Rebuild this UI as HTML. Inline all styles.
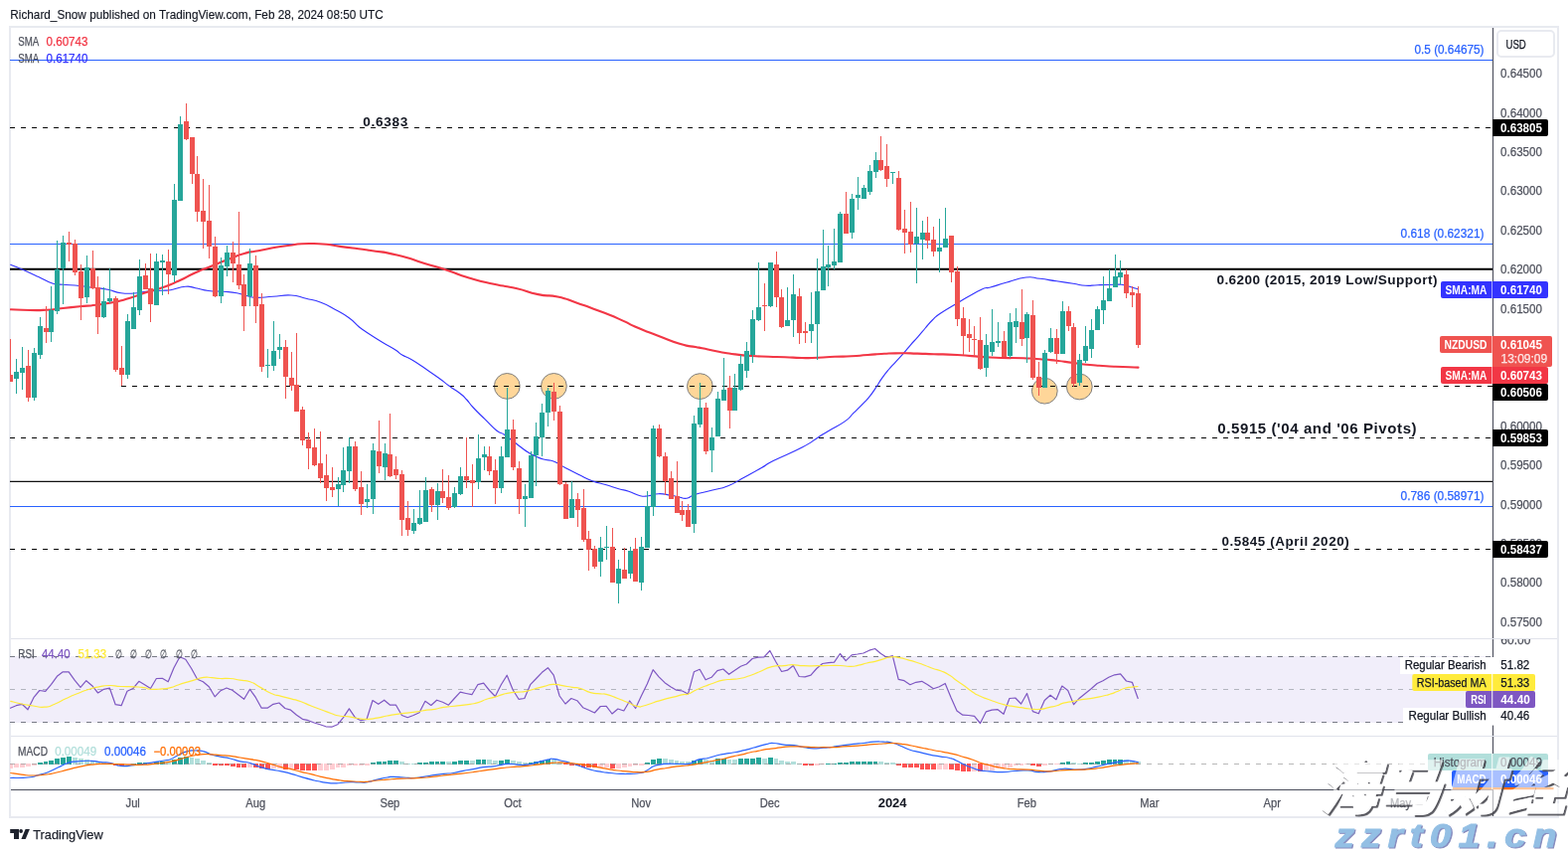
<!DOCTYPE html>
<html lang="en">
<head>
<meta charset="utf-8">
<title>NZDUSD chart</title>
<style>
html,body{margin:0;padding:0;background:#fff;}
body{width:1578px;height:857px;overflow:hidden;font-family:"Liberation Sans", Arial, sans-serif;}
svg{display:block;font-family:"Liberation Sans", Arial, sans-serif;}
</style>
</head>
<body>
<svg width="1578" height="857" viewBox="0 0 1578 857">
<rect x="0" y="0" width="1578" height="857" fill="#ffffff"/>
<text x="10.3" y="19" font-size="12.6" fill="#131722" textLength="375.5" lengthAdjust="spacingAndGlyphs" stroke="#131722" stroke-width="0.15">Richard_Snow published on TradingView.com, Feb 28, 2024 08:50 UTC</text>
<rect x="10" y="27" width="1558" height="795" fill="#ffffff" stroke="#e8eaf0" stroke-width="2"/>
<rect x="10" y="660" width="1492" height="67" fill="#f1eefa"/>
<line x1="10" y1="660.5" x2="1502" y2="660.5" stroke="#787b86" stroke-width="1" stroke-dasharray="5 6"/>
<line x1="10" y1="693.5" x2="1502" y2="693.5" stroke="#b2b5be" stroke-width="1" stroke-dasharray="5 6"/>
<line x1="10" y1="726.5" x2="1502" y2="726.5" stroke="#787b86" stroke-width="1" stroke-dasharray="5 6"/>
<circle cx="510.3" cy="388.4" r="12.9" fill="#ffd699" stroke="#7f7f7f" stroke-width="1"/>
<circle cx="557.4" cy="388.4" r="12.9" fill="#ffd699" stroke="#7f7f7f" stroke-width="1"/>
<circle cx="704.4" cy="388.6" r="12.9" fill="#ffd699" stroke="#7f7f7f" stroke-width="1"/>
<circle cx="1051.3" cy="393.2" r="12.9" fill="#ffd699" stroke="#7f7f7f" stroke-width="1"/>
<circle cx="1086.3" cy="389.0" r="12.9" fill="#ffd699" stroke="#7f7f7f" stroke-width="1"/>
<line x1="10" y1="60.5" x2="1502" y2="60.5" stroke="#2962ff" stroke-width="1"/>
<line x1="10" y1="245.5" x2="1502" y2="245.5" stroke="#2962ff" stroke-width="1"/>
<line x1="10" y1="509.5" x2="1502" y2="509.5" stroke="#2962ff" stroke-width="1"/>
<line x1="10" y1="270.7" x2="1502" y2="270.7" stroke="#000" stroke-width="2.1"/>
<line x1="10" y1="484.4" x2="1502" y2="484.4" stroke="#111" stroke-width="1.15"/>
<line x1="10" y1="128.5" x2="1502" y2="128.5" stroke="#000" stroke-width="1.05" stroke-dasharray="5 6"/>
<line x1="122" y1="388.4" x2="1502" y2="388.4" stroke="#000" stroke-width="1.05" stroke-dasharray="5 6"/>
<line x1="10" y1="440.4" x2="1502" y2="440.4" stroke="#000" stroke-width="1.05" stroke-dasharray="5 6"/>
<line x1="10" y1="552.5" x2="1502" y2="552.5" stroke="#000" stroke-width="1.05" stroke-dasharray="5 6"/>
<defs><clipPath id="cpMain"><rect x="10" y="28" width="1492" height="614"/></clipPath><clipPath id="cpRsi"><rect x="10" y="643" width="1492" height="97"/></clipPath><clipPath id="cpMacd"><rect x="10" y="741" width="1492" height="53"/></clipPath></defs>
<path d="M10.7,266.3C13.6,267.5 14.3,267.6 21.7,270.8C29.1,274.0 29.9,274.4 38.3,278.3C46.7,282.2 46.6,283.2 53.3,285.3C60.0,287.4 56.2,285.7 63.3,286.3C70.4,286.9 72.0,286.7 80.0,287.5C88.0,288.3 85.8,288.2 93.3,289.2C100.8,290.2 100.7,289.8 108.3,291.3C115.9,292.8 114.6,293.7 121.7,294.7C128.8,295.7 128.3,295.4 135.0,295.0C141.7,294.6 139.2,294.0 146.7,293.3C154.2,292.6 156.6,292.6 163.3,292.2C170.0,291.8 165.5,292.7 171.7,291.7C177.9,290.7 180.0,288.8 186.7,288.3C193.4,287.8 190.5,288.6 196.7,289.7C202.9,290.8 202.5,291.5 210.0,292.5C217.5,293.5 217.5,292.7 225.0,293.3C232.5,293.9 232.1,293.6 238.3,294.7C244.5,295.8 243.0,296.2 248.3,297.5C253.6,298.8 251.3,299.2 258.3,299.4C265.3,299.6 265.4,298.9 274.7,298.3C284.0,297.7 284.1,296.5 293.0,297.0C301.9,297.5 300.0,298.4 308.0,300.3C316.0,302.2 315.0,301.2 323.0,304.2C331.0,307.2 330.5,307.6 338.0,311.7C345.5,315.8 345.1,315.2 351.3,319.7C357.5,324.2 356.4,324.7 361.3,328.7C366.2,332.7 363.5,330.6 369.7,334.7C375.9,338.8 377.2,339.6 384.7,344.2C392.2,348.8 392.7,348.6 398.0,352.0C403.3,355.4 400.2,354.3 404.7,357.0C409.2,359.7 408.5,358.3 414.7,362.0C420.9,365.7 420.9,366.0 428.0,370.8C435.1,375.6 434.8,375.3 441.3,380.0C447.8,384.7 446.4,384.1 452.2,388.3C458.0,392.5 458.3,392.1 463.0,395.8C467.7,399.5 466.2,398.2 469.7,402.0C473.2,405.8 471.4,404.7 476.3,410.0C481.2,415.3 481.8,415.6 488.0,421.7C494.2,427.8 494.4,428.8 499.7,433.0C505.0,437.2 502.8,434.0 508.0,437.5C513.2,441.0 512.7,441.1 519.3,446.0C525.9,450.9 525.6,451.6 532.7,455.8C539.8,460.0 539.3,459.5 546.0,461.7C552.7,463.9 551.5,461.8 557.7,464.2C563.9,466.6 562.6,467.3 569.3,470.8C576.0,474.3 575.6,474.1 582.7,477.5C589.8,480.9 588.9,481.0 596.0,483.7C603.1,486.4 602.2,485.4 609.3,487.5C616.4,489.6 616.5,489.9 622.7,491.7C628.9,493.5 626.9,492.3 632.7,494.2C638.5,496.1 639.0,497.5 644.3,498.7C649.6,499.9 647.8,499.2 652.7,498.7C657.6,498.2 656.9,496.9 662.7,496.7C668.5,496.5 669.0,497.2 674.3,498.0C679.6,498.8 678.2,498.8 682.7,499.7C687.2,500.6 686.6,501.8 691.0,501.2C695.4,500.6 692.6,499.6 699.3,497.5C706.0,495.4 707.1,495.6 716.0,493.3C724.9,491.0 723.8,492.2 732.7,488.7C741.6,485.2 740.4,484.8 749.3,480.0C758.2,475.2 758.2,475.3 766.0,470.8C773.8,466.3 767.7,468.8 778.7,463.3C789.7,457.8 795.3,456.2 807.2,450.0C819.1,443.8 816.2,444.4 823.3,440.0C830.4,435.6 826.5,437.8 833.8,433.4C841.1,429.0 843.9,428.4 850.6,423.6C857.3,418.8 854.1,420.2 859.0,415.4C863.9,410.6 864.4,410.3 868.9,405.6C873.4,400.9 872.4,402.4 875.9,397.9C879.4,393.4 879.2,393.3 882.2,388.8C885.2,384.3 883.9,385.6 887.1,381.1C890.3,376.6 890.4,376.5 894.1,372.0C897.8,367.5 897.0,368.8 901.1,364.3C905.2,359.8 905.4,359.9 909.5,355.2C913.6,350.5 912.8,351.1 916.5,346.8C920.2,342.5 919.6,343.6 923.5,339.1C927.4,334.6 927.3,334.6 931.2,330.0C935.1,325.4 934.2,326.0 938.3,322.0C942.4,318.0 940.0,319.5 946.7,315.0C953.4,310.5 952.6,311.2 963.3,305.0C974.0,298.8 977.8,296.0 986.7,291.7C995.6,287.4 989.6,291.1 996.7,289.0C1003.8,286.9 1003.8,286.7 1013.3,284.0C1022.8,281.3 1023.6,280.0 1032.5,279.0C1041.4,278.0 1038.5,279.3 1046.7,280.3C1054.9,281.3 1054.4,281.5 1063.3,282.8C1072.2,284.1 1072.2,284.1 1080.0,285.3C1087.8,286.5 1085.8,286.9 1092.5,287.3C1099.2,287.7 1097.2,287.0 1105.0,286.7C1112.8,286.4 1115.0,286.3 1121.7,286.2C1128.4,286.1 1125.6,285.8 1130.0,286.5C1134.4,287.2 1134.2,287.6 1138.3,288.7C1142.4,289.8 1143.4,290.2 1145.2,290.8" fill="none" stroke="#3333ff" stroke-width="1.15" stroke-linejoin="round" stroke-linecap="round" clip-path="url(#cpMain)"/>
<path d="M10.7,311.3C17.1,311.5 18.0,311.9 30.0,312.0C42.0,312.1 35.6,312.4 46.7,311.7C57.8,311.0 52.2,311.1 63.3,310.0C74.4,308.9 68.9,309.4 80.0,308.3C91.1,307.2 85.6,308.1 96.7,306.7C107.8,305.3 102.2,306.4 113.3,304.2C124.4,302.0 118.9,303.3 130.0,300.0C141.1,296.7 135.6,297.8 146.7,294.2C157.8,290.6 152.2,293.1 163.3,289.2C174.4,285.3 168.9,287.5 180.0,282.5C191.1,277.5 185.6,279.2 196.7,274.2C207.8,269.2 202.2,272.0 213.3,267.5C224.4,263.0 218.9,265.1 230.0,260.8C241.1,256.5 236.7,257.5 246.7,254.7C256.7,251.9 246.3,254.8 260.0,252.3C273.7,249.8 269.3,249.7 287.9,247.3C306.5,244.9 297.2,244.7 315.8,245.0C334.4,245.3 325.1,245.8 343.7,248.1C362.3,250.4 352.9,249.0 371.5,251.8C390.1,254.6 380.8,252.1 399.4,256.5C418.0,260.9 410.6,259.8 427.3,264.9C444.0,270.0 434.7,267.0 449.6,271.8C464.5,276.6 456.1,274.7 471.9,279.4C487.7,284.1 481.2,282.3 497.0,285.8C512.8,289.3 504.4,286.6 519.3,290.0C534.2,293.4 527.6,293.2 541.6,296.1C555.6,299.0 548.2,295.7 561.2,298.6C574.2,301.5 567.7,300.3 580.7,304.7C593.7,309.1 586.3,306.4 600.2,311.7C614.1,317.0 608.6,314.6 622.5,320.6C636.4,326.6 629.0,324.2 642.0,329.8C655.0,335.4 647.6,332.1 661.6,337.4C675.6,342.7 671.1,341.8 683.9,345.7C696.7,349.6 692.4,347.5 700.0,349.0C707.6,350.5 698.9,348.7 706.7,350.3C714.5,351.9 712.2,351.7 723.3,353.7C734.4,355.7 728.9,355.0 740.0,356.4C751.1,357.8 745.6,357.2 756.7,358.0C767.8,358.8 762.2,358.3 773.3,358.7C784.4,359.1 778.9,358.8 790.0,359.2C801.1,359.6 795.6,359.8 806.7,360.0C817.8,360.2 812.2,360.2 823.3,359.8C834.4,359.4 828.9,359.3 840.0,358.8C851.1,358.3 845.6,358.9 856.7,358.3C867.8,357.7 862.2,357.8 873.3,357.0C884.4,356.2 878.9,356.4 890.0,355.8C901.1,355.2 895.6,355.4 906.7,355.3C917.8,355.2 912.2,355.3 923.3,355.6C934.4,355.9 926.7,355.7 940.0,356.2C953.3,356.7 944.4,355.9 963.3,357.0C982.2,358.1 974.5,358.4 996.7,359.5C1018.9,360.6 1013.3,359.7 1030.0,360.3C1046.7,360.9 1035.6,360.4 1046.7,361.2C1057.8,362.0 1052.2,361.5 1063.3,362.8C1074.4,364.1 1068.9,363.6 1080.0,365.0C1091.1,366.4 1085.6,365.9 1096.7,367.0C1107.8,368.1 1102.2,367.5 1113.3,368.2C1124.4,368.9 1119.3,368.5 1130.0,369.0C1140.7,369.5 1140.3,369.4 1145.5,369.6" fill="none" stroke="#f23645" stroke-width="2.1" stroke-linejoin="round" stroke-linecap="round" clip-path="url(#cpMain)"/>
<g clip-path="url(#cpMain)" shape-rendering="crispEdges"><path d="M16,361h1V396h-1zM22,349h1V392h-1zM34,350h1V403h-1zM40,319h1V361h-1zM51,288h1V344h-1zM57,242h1V316h-1zM63,237h1V306h-1zM87,257h1V305h-1zM104,289h1V320h-1zM110,270h1V305h-1zM128,316h1V381h-1zM134,294h1V331h-1zM140,261h1V317h-1zM157,255h1V307h-1zM163,256h1V297h-1zM175,185h1V284h-1zM181,117h1V202h-1zM222,259h1V305h-1zM228,247h1V278h-1zM251,250h1V308h-1zM269,351h1V380h-1zM275,323h1V373h-1zM281,336h1V361h-1zM340,480h1V509h-1zM345,450h1V495h-1zM351,440h1V486h-1zM369,487h1V511h-1zM375,446h1V517h-1zM387,446h1V483h-1zM416,512h1V537h-1zM422,493h1V528h-1zM428,480h1V525h-1zM440,486h1V523h-1zM457,490h1V511h-1zM463,470h1V498h-1zM481,437h1V492h-1zM487,449h1V473h-1zM504,449h1V496h-1zM510,390h1V460h-1zM528,487h1V530h-1zM534,454h1V501h-1zM539,425h1V489h-1zM545,406h1V459h-1zM551,390h1V429h-1zM575,484h1V521h-1zM604,540h1V580h-1zM610,529h1V563h-1zM622,563h1V607h-1zM634,550h1V582h-1zM645,540h1V594h-1zM651,494h1V551h-1zM657,428h1V519h-1zM698,418h1V536h-1zM704,385h1V430h-1zM716,430h1V475h-1zM722,394h1V439h-1zM728,360h1V403h-1zM739,376h1V413h-1zM745,357h1V393h-1zM751,344h1V380h-1zM757,312h1V365h-1zM763,264h1V323h-1zM775,264h1V309h-1zM792,289h1V328h-1zM798,276h1V339h-1zM816,294h1V345h-1zM822,260h1V362h-1zM828,231h1V292h-1zM833,247h1V288h-1zM839,230h1V271h-1zM845,213h1V264h-1zM857,195h1V240h-1zM863,178h1V211h-1zM869,186h1V200h-1zM875,166h1V196h-1zM881,153h1V179h-1zM898,173h1V185h-1zM922,209h1V285h-1zM928,222h1V261h-1zM945,220h1V274h-1zM951,209h1V249h-1zM992,336h1V379h-1zM998,311h1V358h-1zM1004,324h1V349h-1zM1016,315h1V360h-1zM1022,310h1V345h-1zM1033,314h1V365h-1zM1051,352h1V390h-1zM1057,330h1V355h-1zM1069,303h1V356h-1zM1086,356h1V388h-1zM1092,328h1V365h-1zM1098,321h1V360h-1zM1104,308h1V332h-1zM1110,278h1V326h-1zM1116,271h1V303h-1zM1122,256h1V289h-1zM1127,262h1V286h-1zM14,374h5V381h-5zM20,370h5V375h-5zM32,355h5V400h-5zM38,328h5V357h-5zM49,312h5V334h-5zM55,271h5V313h-5zM61,244h5V270h-5zM85,269h5V299h-5zM102,303h5V319h-5zM108,300h5V303h-5zM126,323h5V377h-5zM132,309h5V331h-5zM138,278h5V312h-5zM155,263h5V307h-5zM161,262h5V264h-5zM173,201h5V277h-5zM179,125h5V202h-5zM220,267h5V298h-5zM226,254h5V268h-5zM249,265h5V298h-5zM267,367h5V368h-5zM273,353h5V368h-5zM279,349h5V352h-5zM338,487h5V492h-5zM343,473h5V488h-5zM349,449h5V474h-5zM367,502h5V505h-5zM373,453h5V502h-5zM385,456h5V470h-5zM414,526h5V534h-5zM420,521h5V527h-5zM426,493h5V525h-5zM438,494h5V508h-5zM455,496h5V510h-5zM461,479h5V497h-5zM479,461h5V485h-5zM485,457h5V460h-5zM502,459h5V491h-5zM508,432h5V460h-5zM526,499h5V502h-5zM532,458h5V501h-5zM537,439h5V458h-5zM543,415h5V440h-5zM549,393h5V415h-5zM573,502h5V521h-5zM602,551h5V565h-5zM608,550h5V551h-5zM620,572h5V587h-5zM632,554h5V577h-5zM643,550h5V586h-5zM649,509h5V551h-5zM655,431h5V510h-5zM696,426h5V527h-5zM702,410h5V427h-5zM714,440h5V453h-5zM720,401h5V439h-5zM726,392h5V403h-5zM737,390h5V413h-5zM743,366h5V392h-5zM749,353h5V373h-5zM755,321h5V357h-5zM761,309h5V322h-5zM773,264h5V308h-5zM790,322h5V328h-5zM796,296h5V322h-5zM814,326h5V333h-5zM820,293h5V326h-5zM826,268h5V292h-5zM831,266h5V269h-5zM837,263h5V267h-5zM843,215h5V264h-5zM855,200h5V234h-5zM861,196h5V199h-5zM867,189h5V200h-5zM873,172h5V193h-5zM879,161h5V173h-5zM896,173h5V174h-5zM920,238h5V245h-5zM926,234h5V241h-5zM943,249h5V253h-5zM949,240h5V249h-5zM990,347h5V370h-5zM996,344h5V354h-5zM1002,343h5V345h-5zM1014,324h5V358h-5zM1020,323h5V329h-5zM1031,316h5V340h-5zM1049,355h5V390h-5zM1055,340h5V354h-5zM1067,313h5V356h-5zM1084,362h5V385h-5zM1090,348h5V363h-5zM1096,332h5V351h-5zM1102,311h5V332h-5zM1108,302h5V312h-5zM1114,290h5V303h-5zM1120,278h5V289h-5zM1125,274h5V279h-5z" fill="#26a69a"/><path d="M10,341h1V384h-1zM28,352h1V404h-1zM46,308h1V345h-1zM69,233h1V263h-1zM75,241h1V277h-1zM81,266h1V322h-1zM93,252h1V291h-1zM98,278h1V336h-1zM116,298h1V374h-1zM122,348h1V388h-1zM146,265h1V291h-1zM151,255h1V324h-1zM169,251h1V296h-1zM187,104h1V141h-1zM193,138h1V185h-1zM198,157h1V223h-1zM204,180h1V250h-1zM210,186h1V260h-1zM216,238h1V299h-1zM234,243h1V284h-1zM240,213h1V291h-1zM245,276h1V333h-1zM257,257h1V325h-1zM263,295h1V374h-1zM287,342h1V401h-1zM293,354h1V393h-1zM298,335h1V414h-1zM304,409h1V448h-1zM310,435h1V472h-1zM316,431h1V469h-1zM322,434h1V486h-1zM328,457h1V504h-1zM334,470h1V500h-1zM357,444h1V494h-1zM363,474h1V518h-1zM381,423h1V476h-1zM392,416h1V480h-1zM398,459h1V482h-1zM404,473h1V539h-1zM410,504h1V539h-1zM434,490h1V515h-1zM445,472h1V506h-1zM451,478h1V513h-1zM469,440h1V491h-1zM475,467h1V510h-1zM492,449h1V478h-1zM498,462h1V507h-1zM516,422h1V473h-1zM522,464h1V517h-1zM557,385h1V423h-1zM563,408h1V488h-1zM569,485h1V522h-1zM581,496h1V530h-1zM587,492h1V545h-1zM592,534h1V574h-1zM598,549h1V572h-1zM616,531h1V586h-1zM628,551h1V582h-1zM639,541h1V585h-1zM663,427h1V460h-1zM669,455h1V498h-1zM675,474h1V502h-1zM681,464h1V516h-1zM686,504h1V524h-1zM692,507h1V530h-1zM710,405h1V457h-1zM734,378h1V431h-1zM769,285h1V333h-1zM781,253h1V309h-1zM786,291h1V330h-1zM804,290h1V346h-1zM810,324h1V345h-1zM851,193h1V235h-1zM886,137h1V172h-1zM892,145h1V188h-1zM904,172h1V232h-1zM910,211h1V255h-1zM916,203h1V254h-1zM933,218h1V250h-1zM939,228h1V258h-1zM957,237h1V284h-1zM963,268h1V328h-1zM969,309h1V357h-1zM975,321h1V354h-1zM980,328h1V358h-1zM986,319h1V372h-1zM1010,333h1V359h-1zM1028,291h1V348h-1zM1039,302h1V382h-1zM1045,364h1V398h-1zM1063,331h1V366h-1zM1075,308h1V333h-1zM1080,325h1V389h-1zM1133,271h1V300h-1zM1139,288h1V309h-1zM1145,288h1V350h-1zM8,377h5V384h-5zM26,368h5V400h-5zM44,330h5V334h-5zM67,244h5V246h-5zM73,245h5V274h-5zM79,273h5V300h-5zM91,270h5V290h-5zM96,289h5V319h-5zM114,300h5V372h-5zM120,370h5V377h-5zM144,277h5V291h-5zM149,290h5V306h-5zM167,263h5V276h-5zM185,122h5V140h-5zM191,138h5V175h-5zM196,175h5V213h-5zM202,212h5V223h-5zM208,222h5V248h-5zM214,248h5V298h-5zM232,254h5V265h-5zM238,266h5V287h-5zM243,286h5V308h-5zM255,267h5V308h-5zM261,306h5V369h-5zM285,349h5V379h-5zM291,380h5V388h-5zM296,387h5V414h-5zM302,412h5V443h-5zM308,442h5V451h-5zM314,450h5V468h-5zM320,466h5V481h-5zM326,478h5V491h-5zM332,490h5V493h-5zM355,449h5V492h-5zM361,490h5V507h-5zM379,454h5V469h-5zM390,457h5V479h-5zM396,472h5V478h-5zM402,477h5V523h-5zM408,521h5V533h-5zM432,492h5V508h-5zM443,494h5V501h-5zM449,500h5V511h-5zM467,479h5V483h-5zM473,483h5V486h-5zM490,459h5V474h-5zM496,473h5V491h-5zM514,432h5V470h-5zM520,471h5V502h-5zM555,394h5V414h-5zM561,414h5V487h-5zM567,487h5V522h-5zM579,502h5V513h-5zM585,511h5V543h-5zM590,542h5V553h-5zM596,552h5V570h-5zM614,550h5V586h-5zM626,573h5V582h-5zM637,552h5V585h-5zM661,431h5V459h-5zM667,459h5V484h-5zM673,481h5V502h-5zM679,499h5V516h-5zM684,513h5V518h-5zM690,513h5V530h-5zM708,410h5V454h-5zM732,390h5V413h-5zM767,307h5V308h-5zM779,266h5V299h-5zM784,299h5V329h-5zM802,298h5V335h-5zM808,333h5V335h-5zM849,215h5V235h-5zM884,161h5V171h-5zM890,167h5V180h-5zM902,179h5V231h-5zM908,230h5V234h-5zM914,233h5V246h-5zM931,234h5V242h-5zM937,241h5V253h-5zM955,237h5V274h-5zM961,273h5V321h-5zM967,320h5V338h-5zM973,336h5V340h-5zM978,341h5V342h-5zM984,342h5V371h-5zM1008,343h5V359h-5zM1026,324h5V341h-5zM1037,317h5V380h-5zM1043,379h5V390h-5zM1061,340h5V356h-5zM1073,313h5V328h-5zM1078,329h5V386h-5zM1131,276h5V295h-5zM1137,294h5V297h-5zM1143,295h5V347h-5z" fill="#ef5350"/></g>
<path d="M10.4,712.2 L16.3,709.7 L22.2,708.3 L28.0,713.8 L33.9,701.7 L39.8,694.5 L45.7,695.3 L51.6,688.3 L57.4,680.3 L63.3,675.8 L69.2,675.8 L75.1,684.2 L81.0,691.3 L86.8,684.7 L92.7,689.7 L98.6,697.0 L104.5,693.3 L110.4,692.2 L116.2,708.7 L122.1,709.7 L128.0,695.3 L133.9,692.5 L139.8,685.3 L145.6,688.7 L151.5,692.5 L157.4,682.5 L163.3,682.3 L169.2,685.8 L175.0,671.7 L180.9,660.8 L186.8,663.3 L192.7,672.5 L198.6,683.3 L204.4,685.8 L210.3,690.8 L216.2,700.8 L222.1,694.7 L228.0,692.0 L233.8,694.2 L239.7,698.7 L245.6,703.3 L251.5,693.3 L257.4,701.7 L263.2,712.2 L269.1,712.2 L275.0,708.3 L280.9,707.0 L286.8,712.5 L292.6,714.2 L298.5,719.2 L304.4,723.3 L310.3,724.7 L316.2,727.0 L322.0,728.8 L327.9,730.8 L333.8,731.2 L339.7,728.8 L345.6,721.7 L351.4,712.8 L357.3,721.7 L363.2,724.7 L369.1,723.3 L375.0,704.5 L380.8,708.3 L386.7,704.2 L392.6,709.2 L398.5,709.2 L404.4,719.5 L410.2,721.7 L416.1,719.5 L422.0,716.7 L427.9,705.3 L433.8,709.5 L439.6,704.2 L445.5,706.3 L451.4,709.2 L457.3,702.5 L463.2,696.2 L469.0,697.5 L474.9,698.7 L480.8,688.7 L486.7,687.2 L492.6,694.5 L498.4,700.5 L504.3,688.7 L510.2,679.2 L516.1,693.8 L522.0,703.3 L527.8,702.5 L533.7,688.7 L539.6,682.5 L545.5,676.3 L551.4,671.7 L557.2,679.2 L563.1,700.0 L569.0,708.0 L574.9,702.5 L580.8,704.7 L586.6,711.7 L592.5,714.2 L598.4,717.0 L604.3,710.5 L610.2,710.3 L616.0,718.0 L621.9,713.0 L627.8,715.0 L633.7,705.0 L639.6,712.5 L645.4,700.0 L651.3,688.0 L657.2,673.7 L663.1,680.8 L669.0,686.7 L674.8,690.8 L680.7,694.2 L686.6,695.0 L692.5,698.0 L698.4,675.8 L704.2,673.3 L710.1,683.8 L716.0,681.3 L721.9,674.7 L727.8,673.0 L733.6,678.3 L739.5,674.2 L745.4,670.3 L751.3,668.0 L757.2,662.5 L763.0,661.2 L768.9,660.8 L774.8,654.5 L780.7,665.5 L786.6,675.5 L792.4,674.2 L798.3,669.5 L804.2,680.5 L810.1,680.8 L816.0,679.2 L821.8,672.5 L827.7,667.5 L833.6,666.7 L839.5,666.2 L845.4,657.5 L851.2,664.7 L857.1,658.8 L863.0,658.0 L868.9,657.0 L874.8,654.2 L880.6,652.5 L886.5,657.5 L892.4,661.3 L898.3,659.7 L904.2,683.3 L910.0,684.7 L915.9,688.7 L921.8,686.3 L927.7,685.3 L933.6,688.7 L939.4,692.8 L945.3,690.8 L951.2,687.5 L957.1,701.7 L963.0,715.0 L968.8,719.2 L974.7,719.5 L980.6,720.3 L986.5,727.5 L992.4,715.8 L998.2,714.2 L1004.1,713.7 L1010.0,718.3 L1015.9,702.5 L1021.8,702.0 L1027.6,708.0 L1033.5,697.5 L1039.4,715.6 L1045.3,717.8 L1051.2,704.5 L1057.0,699.2 L1062.9,703.7 L1068.8,690.0 L1074.7,694.5 L1080.6,708.7 L1086.4,702.2 L1092.3,697.5 L1098.2,692.8 L1104.1,687.5 L1110.0,684.7 L1115.8,681.3 L1121.7,678.8 L1127.6,677.8 L1133.5,685.0 L1139.4,686.3 L1145.2,702.5" fill="none" stroke="#7e57c2" stroke-width="1.2" stroke-linejoin="round" stroke-linecap="round" clip-path="url(#cpRsi)" />
<path d="M10.7,705.3C14.3,706.2 14.1,706.4 21.7,708.0C29.2,709.6 25.6,708.9 33.3,710.0C41.1,711.1 37.8,711.7 45.0,711.2C52.2,710.6 47.8,711.2 55.0,708.3C62.2,705.4 58.9,706.1 66.7,702.5C74.4,698.9 71.1,700.4 78.3,697.5C85.6,694.6 81.7,695.8 88.3,693.7C95.0,691.6 91.1,692.6 98.3,691.2C105.6,689.8 102.2,689.7 110.0,689.5C117.8,689.3 113.3,690.1 121.7,690.5C130.0,690.9 127.2,690.4 135.0,690.8C142.8,691.2 139.4,690.8 145.0,691.7C150.6,692.5 145.6,692.9 151.7,693.3C157.8,693.7 156.7,693.4 163.3,692.8C170.0,692.3 166.1,693.1 171.7,691.7C177.2,690.3 174.4,690.5 180.0,688.7C185.6,686.8 182.8,687.8 188.3,686.2C193.9,684.5 191.1,685.3 196.7,683.7C202.2,682.1 199.4,682.0 205.0,681.3C210.6,680.7 207.8,681.3 213.3,681.7C218.9,682.1 215.6,682.2 221.7,682.5C227.8,682.8 225.0,681.9 231.7,682.5C238.3,683.1 235.0,683.1 241.7,684.2C248.3,685.3 245.1,683.5 251.7,685.8C258.3,688.1 254.4,687.2 261.5,691.1C268.6,695.0 265.8,694.4 273.0,697.5C280.2,700.6 276.3,698.6 283.0,700.3C289.7,702.1 286.3,701.0 293.0,702.8C299.7,704.7 296.3,703.4 303.0,705.8C309.7,708.2 306.3,707.4 313.0,710.0C319.7,712.6 316.3,711.2 323.0,713.7C329.7,716.2 326.9,715.4 333.0,717.5C339.1,719.6 335.2,718.9 341.3,720.0C347.4,721.1 345.2,720.0 351.3,720.8C357.4,721.7 353.6,721.7 359.7,722.5C365.8,723.3 363.0,723.4 369.7,723.3C376.3,723.2 373.0,723.3 379.7,722.2C386.3,721.1 383.0,721.3 389.7,720.0C396.3,718.7 393.0,719.3 399.7,718.3C406.3,717.4 403.0,718.0 409.7,717.2C416.3,716.3 413.0,716.8 419.7,715.8C426.3,714.8 423.6,715.0 429.7,714.2C435.8,713.3 432.4,714.3 438.0,713.3C443.6,712.4 440.8,712.3 446.3,711.3C451.9,710.4 449.1,711.1 454.7,710.5C460.2,709.9 456.9,710.4 463.0,709.7C469.1,708.9 466.9,709.3 473.0,708.3C479.1,707.3 475.8,708.3 481.3,706.7C486.9,705.0 484.1,705.2 489.7,703.3C495.2,701.5 492.4,702.8 498.0,701.2C503.6,699.5 500.8,699.8 506.3,698.3C511.9,696.8 509.8,697.4 514.7,696.7C519.6,695.9 516.1,696.6 521.0,696.2C525.9,695.7 523.8,696.4 529.3,695.3C534.9,694.3 531.6,694.7 537.7,693.0C543.8,691.3 541.3,691.9 547.7,690.3C554.1,688.8 550.7,688.6 556.8,688.3C562.9,688.1 559.6,688.7 566.0,689.7C572.4,690.7 569.9,690.4 576.0,691.3C582.1,692.3 578.2,690.7 584.3,692.5C590.4,694.3 587.7,694.9 594.3,696.7C601.0,698.4 598.8,697.2 604.3,697.8C609.9,698.5 605.4,697.2 611.0,698.7C616.6,700.1 614.3,699.6 621.0,702.2C627.7,704.7 624.3,703.6 631.0,706.3C637.7,709.1 635.4,709.1 641.0,710.3C646.6,711.6 642.1,711.2 647.7,710.0C653.2,708.8 651.0,708.8 657.7,706.7C664.3,704.6 661.0,705.5 667.7,703.7C674.3,701.8 671.0,702.8 677.7,701.2C684.3,699.5 682.7,699.7 687.7,698.7C692.7,697.6 688.2,699.7 692.7,698.0C697.1,696.3 695.4,696.2 701.0,693.7C706.6,691.1 703.8,692.5 709.3,690.3C714.9,688.2 711.6,689.2 717.7,687.2C723.8,685.1 721.6,685.4 727.7,684.2C733.8,682.9 730.4,683.9 736.0,683.3C741.6,682.8 738.2,683.7 744.3,682.5C750.4,681.3 747.7,681.9 754.3,679.7C761.0,677.4 756.9,678.8 764.3,675.8C771.8,672.8 768.4,672.7 776.7,670.7C784.9,668.6 782.1,670.3 789.0,669.7C795.9,669.0 790.7,668.7 797.3,668.7C804.0,668.7 800.7,669.3 809.0,669.7C817.3,670.0 814.0,669.7 822.3,669.7C830.7,669.6 826.2,669.6 834.0,669.5C841.8,669.4 838.4,669.2 845.7,669.5C852.9,669.8 849.6,670.4 855.7,670.3C861.8,670.2 858.4,670.3 864.0,669.2C869.6,668.1 866.8,668.3 872.3,667.0C877.9,665.7 875.1,666.7 880.7,665.3C886.2,663.9 883.4,664.3 889.0,662.8C894.6,661.3 891.8,661.2 897.3,660.8C902.9,660.4 900.1,660.7 905.7,661.7C911.2,662.7 908.4,662.3 914.0,663.8C919.6,665.3 916.8,664.4 922.3,666.2C927.9,667.9 925.1,667.1 930.7,669.2C936.2,671.3 933.4,670.6 939.0,672.5C944.6,674.4 941.8,672.8 947.3,675.0C952.9,677.2 950.7,676.1 955.7,679.2C960.7,682.2 957.3,680.6 962.3,684.2C967.3,687.8 965.1,686.0 970.7,690.0C976.2,694.0 974.0,692.8 979.0,696.2C984.0,699.5 980.7,697.6 985.7,700.0C990.7,702.4 988.4,701.3 994.0,703.3C999.6,705.4 996.8,704.3 1002.3,706.2C1007.9,708.0 1005.1,707.4 1010.7,708.8C1016.2,710.2 1013.4,709.4 1019.0,710.3C1024.6,711.3 1021.6,710.8 1027.3,711.7C1033.1,712.6 1029.8,712.4 1036.3,713.0C1042.9,713.6 1040.7,713.8 1047.0,713.3C1053.3,712.9 1049.8,712.9 1055.3,711.7C1060.9,710.4 1058.7,711.2 1063.7,709.7C1068.7,708.2 1064.8,708.6 1070.3,707.2C1075.9,705.7 1073.7,706.6 1080.3,705.3C1087.0,704.1 1083.7,704.4 1090.3,703.3C1097.0,702.3 1093.7,703.3 1100.3,702.2C1107.0,701.1 1104.8,701.3 1110.3,700.0C1115.9,698.7 1112.6,699.7 1117.0,698.3C1121.4,696.9 1118.7,697.9 1123.7,695.8C1128.7,693.8 1127.0,693.7 1132.0,692.2C1137.0,690.6 1134.3,691.7 1138.7,691.2C1143.0,690.6 1142.9,690.7 1145.0,690.5" fill="none" stroke="#ffeb3b" stroke-width="1.2" stroke-linejoin="round" stroke-linecap="round" clip-path="url(#cpRsi)"/>
<g clip-path="url(#cpMacd)" shape-rendering="crispEdges"><path d="M38,767h5V769h-5zM44,766h4V769h-4zM49,765h5V769h-5zM55,763h5V769h-5zM61,762h5V769h-5zM67,761h5V769h-5zM132,768h5V769h-5zM138,767h5V769h-5zM144,767h4V769h-4zM155,766h5V769h-5zM161,766h5V769h-5zM173,764h5V769h-5zM179,762h5V769h-5zM185,761h5V769h-5zM373,767h5V769h-5zM379,766h5V769h-5zM385,766h4V769h-4zM390,765h5V769h-5zM396,765h5V769h-5zM420,767h5V769h-5zM426,767h5V769h-5zM432,766h5V769h-5zM438,766h4V769h-4zM443,766h5V769h-5zM455,766h5V769h-5zM461,765h5V769h-5zM467,765h5V769h-5zM479,764h5V769h-5zM485,764h4V769h-4zM502,765h5V769h-5zM508,764h5V769h-5zM532,767h4V769h-4zM537,766h5V769h-5zM543,765h5V769h-5zM549,764h5V769h-5zM649,767h5V769h-5zM655,764h5V769h-5zM661,763h5V769h-5zM696,765h5V769h-5zM702,764h5V769h-5zM720,763h5V769h-5zM726,763h5V769h-5zM743,763h5V769h-5zM749,763h5V769h-5zM755,763h5V769h-5zM761,762h5V769h-5zM773,762h5V769h-5zM831,768h5V769h-5zM837,768h5V769h-5zM843,767h5V769h-5zM849,767h5V769h-5zM855,766h5V769h-5zM861,766h5V769h-5zM867,766h5V769h-5zM873,766h5V769h-5zM879,766h4V769h-4zM1067,767h5V769h-5zM1073,766h4V769h-4zM1090,767h5V769h-5zM1096,767h5V769h-5zM1102,766h5V769h-5zM1108,765h5V769h-5zM1114,764h5V769h-5zM1120,764h4V769h-4zM1125,764h5V769h-5z" fill="#26a69a"/><path d="M73,762h5V769h-5zM79,763h5V769h-5zM85,764h5V769h-5zM91,765h4V769h-4zM96,766h5V769h-5zM102,767h5V769h-5zM108,768h5V769h-5zM149,768h5V769h-5zM167,767h5V769h-5zM191,762h4V769h-4zM196,763h5V769h-5zM202,765h5V769h-5zM208,767h5V769h-5zM402,766h5V769h-5zM408,768h5V769h-5zM414,768h5V769h-5zM449,766h5V769h-5zM473,765h5V769h-5zM490,764h5V769h-5zM496,765h5V769h-5zM514,765h5V769h-5zM520,766h5V769h-5zM526,767h5V769h-5zM555,764h5V769h-5zM561,766h5V769h-5zM667,763h5V769h-5zM673,764h5V769h-5zM679,765h4V769h-4zM684,766h5V769h-5zM690,766h5V769h-5zM708,764h5V769h-5zM714,765h5V769h-5zM732,764h4V769h-4zM737,764h5V769h-5zM767,763h5V769h-5zM779,763h4V769h-4zM784,765h5V769h-5zM790,766h5V769h-5zM796,766h5V769h-5zM802,768h5V769h-5zM884,766h5V769h-5zM890,767h5V769h-5zM896,767h5V769h-5zM1078,767h5V769h-5zM1084,768h5V769h-5zM1131,764h5V769h-5zM1137,765h5V769h-5zM1143,766h5V769h-5z" fill="#b2dfdb"/><path d="M114,768h5V770h-5zM120,768h5V770h-5zM214,768h5V770h-5zM220,768h5V770h-5zM226,768h5V770h-5zM232,768h5V771h-5zM238,768h4V772h-4zM243,768h5V772h-5zM255,768h5V772h-5zM261,768h5V773h-5zM267,768h5V774h-5zM285,768h5V774h-5zM296,768h5V774h-5zM302,768h5V775h-5zM308,768h5V775h-5zM314,768h5V775h-5zM567,768h5V769h-5zM573,768h5V770h-5zM579,768h5V770h-5zM585,768h4V772h-4zM590,768h5V772h-5zM596,768h5V772h-5zM614,768h5V773h-5zM808,768h5V770h-5zM814,768h5V770h-5zM902,768h5V770h-5zM908,768h5V772h-5zM914,768h5V772h-5zM920,768h5V772h-5zM926,768h4V774h-4zM931,768h5V774h-5zM937,768h5V774h-5zM955,768h5V774h-5zM961,768h5V775h-5zM967,768h5V776h-5zM973,768h4V776h-4zM984,768h5V776h-5zM1037,768h5V770h-5zM1043,768h5V771h-5z" fill="#ff5252"/><path d="M8,768h5V773h-5zM14,768h5V772h-5zM20,768h5V772h-5zM26,768h5V771h-5zM32,768h5V770h-5zM126,768h5V769h-5zM249,768h5V772h-5zM273,768h5V773h-5zM279,768h5V773h-5zM291,768h4V773h-4zM320,768h5V775h-5zM326,768h5V775h-5zM332,768h5V774h-5zM338,768h4V772h-4zM343,768h5V772h-5zM349,768h5V770h-5zM355,768h5V770h-5zM361,768h5V770h-5zM367,768h5V770h-5zM602,768h5V772h-5zM608,768h5V772h-5zM620,768h5V773h-5zM626,768h5V772h-5zM632,768h4V771h-4zM637,768h5V770h-5zM643,768h5V770h-5zM820,768h5V770h-5zM826,768h4V769h-4zM943,768h5V774h-5zM949,768h5V774h-5zM978,768h5V776h-5zM990,768h5V775h-5zM996,768h5V775h-5zM1002,768h5V773h-5zM1008,768h5V772h-5zM1014,768h5V772h-5zM1020,768h5V770h-5zM1026,768h4V770h-4zM1031,768h5V769h-5zM1049,768h5V770h-5zM1055,768h5V769h-5zM1061,768h5V769h-5z" fill="#ffcdd2"/></g>
<line x1="10" y1="768.5" x2="1502" y2="768.5" stroke="#9a9a9a" stroke-opacity="0.7" stroke-width="1" stroke-dasharray="5 6" clip-path="url(#cpMacd)"/>
<path d="M10.7,782.5C16.6,782.3 19.1,782.9 28.3,782.0C37.6,781.1 31.7,781.4 38.3,779.7C45.0,777.9 41.7,779.2 48.3,776.7C55.0,774.1 51.7,775.1 58.3,772.0C65.0,768.9 61.7,769.6 68.3,767.5C75.0,765.4 70.6,766.6 78.3,765.8C86.1,765.1 83.9,765.1 91.7,765.3C99.4,765.6 95.0,765.9 101.7,766.7C108.3,767.4 105.0,766.3 111.7,767.5C118.3,768.7 113.9,769.6 121.7,770.3C129.4,771.1 127.2,770.3 135.0,769.7C142.8,769.0 138.3,769.3 145.0,768.3C151.7,767.3 148.3,767.8 155.0,766.7C161.7,765.6 159.4,766.0 165.0,765.0C170.6,764.0 166.7,765.6 171.7,763.7C176.7,761.7 174.4,761.8 180.0,759.2C185.6,756.6 182.8,757.2 188.3,755.8C193.9,754.4 191.1,755.0 196.7,755.0C202.2,755.0 199.4,754.4 205.0,755.8C210.6,757.2 207.8,757.4 213.3,759.2C218.9,760.9 215.6,759.9 221.7,761.2C227.8,762.4 225.0,761.4 231.7,763.0C238.3,764.6 235.0,764.3 241.7,765.8C248.3,767.3 245.1,765.6 251.7,767.5C258.3,769.4 254.4,769.2 261.5,771.4C268.6,773.6 265.8,772.7 273.0,774.2C280.2,775.6 276.3,774.4 283.0,775.8C289.7,777.2 286.3,776.5 293.0,778.3C299.7,780.2 296.3,779.4 303.0,781.3C309.7,783.3 306.3,782.5 313.0,784.2C319.7,785.8 316.3,785.1 323.0,786.3C329.7,787.6 326.3,787.4 333.0,787.8C339.7,788.2 336.3,787.9 343.0,787.5C349.7,787.1 346.3,786.8 353.0,786.7C359.7,786.5 357.4,787.0 363.0,787.0C368.6,787.0 364.1,787.6 369.7,786.7C375.2,785.7 373.0,785.7 379.7,784.2C386.3,782.6 384.1,782.9 389.7,782.0C395.2,781.1 390.8,781.3 396.3,781.3C401.9,781.3 399.7,781.6 406.3,782.0C413.0,782.4 409.7,782.7 416.3,782.5C423.0,782.3 419.7,782.3 426.3,781.3C433.0,780.4 429.7,780.7 436.3,779.7C443.0,778.7 439.7,779.1 446.3,778.3C453.0,777.6 449.7,778.5 456.3,777.5C463.0,776.5 459.7,776.6 466.3,775.3C473.0,774.1 469.7,774.9 476.3,773.7C483.0,772.4 479.7,772.6 486.3,771.7C493.0,770.7 490.8,771.5 496.3,770.8C501.9,770.2 498.0,770.5 503.0,769.7C508.0,768.8 505.6,768.5 511.3,768.3C517.1,768.1 513.8,768.8 520.3,769.1C526.9,769.4 524.1,770.0 531.0,769.2C537.9,768.4 534.3,768.3 541.0,766.7C547.7,765.0 545.7,765.3 551.0,764.2C556.3,763.1 552.4,763.1 556.8,763.3C561.3,763.6 558.5,763.6 564.3,765.0C570.2,766.4 567.7,765.6 574.3,767.5C581.0,769.4 577.7,768.6 584.3,770.8C591.0,773.1 587.7,772.4 594.3,774.2C601.0,775.9 597.7,775.1 604.3,776.2C611.0,777.3 607.7,776.8 614.3,777.5C621.0,778.2 617.7,778.1 624.3,778.3C631.0,778.6 627.7,778.6 634.3,778.3C641.0,778.1 638.8,778.6 644.3,777.5C649.9,776.4 646.6,777.2 651.0,775.0C655.4,772.8 653.2,772.8 657.7,770.8C662.1,768.9 659.9,770.0 664.3,769.2C668.8,768.3 665.4,768.6 671.0,768.3C676.6,768.1 673.8,768.3 681.0,768.3C688.2,768.3 687.1,769.0 692.7,768.3C698.2,767.7 693.8,767.9 697.7,766.3C701.6,764.8 699.3,764.9 704.3,763.7C709.3,762.4 707.1,763.7 712.7,762.5C718.2,761.3 715.4,761.4 721.0,760.0C726.6,758.6 723.8,759.3 729.3,758.3C734.9,757.3 732.1,758.0 737.7,757.0C743.2,756.0 740.4,756.6 746.0,755.3C751.6,754.1 748.8,754.8 754.3,753.3C759.9,751.8 757.1,752.4 762.7,750.8C768.2,749.3 765.8,749.8 771.0,748.7C776.2,747.6 772.3,747.3 778.3,747.5C784.3,747.7 782.1,748.4 789.0,749.2C795.9,749.9 792.3,748.8 799.0,749.7C805.7,750.5 802.3,750.6 809.0,751.7C815.7,752.7 812.3,752.7 819.0,752.8C825.7,753.0 822.3,752.7 829.0,752.2C835.7,751.6 832.3,752.0 839.0,751.2C845.7,750.3 842.3,750.6 849.0,749.7C855.7,748.7 852.3,749.1 859.0,748.3C865.7,747.6 862.3,748.2 869.0,747.5C875.7,746.8 872.3,746.6 879.0,746.2C885.7,745.7 882.9,745.9 889.0,746.2C895.1,746.4 891.8,745.7 897.3,747.0C902.9,748.3 899.6,747.6 905.7,750.0C911.8,752.4 909.0,751.9 915.7,754.2C922.3,756.4 919.0,755.0 925.7,756.7C932.3,758.3 929.0,757.8 935.7,759.2C942.3,760.6 939.0,759.7 945.7,760.8C952.3,761.9 950.1,761.1 955.7,762.5C961.2,763.9 957.3,762.8 962.3,765.0C967.3,767.2 965.1,766.7 970.7,769.2C976.2,771.7 974.0,770.7 979.0,772.5C984.0,774.3 980.1,773.6 985.7,774.7C991.2,775.8 987.9,775.2 995.7,775.8C1003.4,776.5 1000.7,776.8 1009.0,776.7C1017.3,776.6 1012.1,776.1 1020.7,775.5C1029.2,774.9 1026.4,774.6 1034.7,775.0C1042.9,775.4 1037.9,776.4 1045.3,776.7C1052.8,776.9 1049.8,776.8 1057.0,775.8C1064.2,774.8 1060.9,774.5 1067.0,773.7C1073.1,772.8 1069.8,773.2 1075.3,773.3C1080.9,773.5 1077.6,774.2 1083.7,774.2C1089.8,774.2 1087.0,774.3 1093.7,773.3C1100.3,772.3 1097.0,772.7 1103.7,771.2C1110.3,769.6 1107.0,770.2 1113.7,768.7C1120.3,767.2 1117.6,767.8 1123.7,766.7C1129.8,765.6 1127.0,765.8 1132.0,765.3C1137.0,764.9 1134.2,764.9 1138.7,765.3C1143.1,765.8 1143.1,766.2 1145.3,766.7" fill="none" stroke="#2962ff" stroke-width="1.2" stroke-linejoin="round" stroke-linecap="round" clip-path="url(#cpMacd)"/>
<path d="M10.7,777.5C14.3,778.1 14.1,778.3 21.7,779.2C29.2,780.0 25.6,780.0 33.3,780.0C41.1,780.0 37.8,780.0 45.0,779.2C52.2,778.3 47.2,779.2 55.0,777.5C62.8,775.8 60.6,776.1 68.3,774.2C76.1,772.2 70.6,773.3 78.3,771.7C86.1,770.0 82.8,770.3 91.7,769.2C100.6,768.1 96.1,768.5 105.0,768.3C113.9,768.2 109.4,768.4 118.3,768.7C127.2,768.9 122.8,769.0 131.7,769.2C140.6,769.3 137.2,769.4 145.0,769.2C152.8,768.9 148.3,769.0 155.0,768.3C161.7,767.7 158.3,768.2 165.0,767.2C171.7,766.2 168.3,766.9 175.0,765.3C181.7,763.8 178.3,764.3 185.0,762.5C191.7,760.7 188.3,761.3 195.0,760.0C201.7,758.7 198.9,759.1 205.0,758.7C211.1,758.3 207.8,758.5 213.3,758.8C218.9,759.2 215.6,759.2 221.7,759.7C227.8,760.2 225.0,759.6 231.7,760.3C238.3,761.1 235.0,760.9 241.7,762.0C248.3,763.1 245.1,762.6 251.7,763.7C258.3,764.8 254.4,763.7 261.5,765.3C268.6,767.0 265.8,766.6 273.0,768.7C280.2,770.8 276.3,770.0 283.0,771.7C289.7,773.3 286.3,772.1 293.0,773.7C299.7,775.2 296.3,774.7 303.0,776.3C309.7,778.0 306.3,777.0 313.0,778.7C319.7,780.3 316.3,779.8 323.0,781.3C329.7,782.9 326.3,782.1 333.0,783.3C339.7,784.6 336.3,784.2 343.0,785.0C349.7,785.8 346.3,785.4 353.0,785.8C359.7,786.3 357.4,786.2 363.0,786.3C368.6,786.5 364.1,786.8 369.7,786.3C375.2,785.9 373.0,785.7 379.7,785.0C386.3,784.3 383.0,784.7 389.7,784.2C396.3,783.6 393.0,783.7 399.7,783.3C406.3,782.9 403.0,783.2 409.7,783.0C416.3,782.8 413.0,783.0 419.7,782.7C426.3,782.3 423.0,782.6 429.7,782.0C436.3,781.4 433.0,781.6 439.7,780.8C446.3,780.1 443.0,780.4 449.7,779.7C456.3,778.9 453.0,779.4 459.7,778.7C466.3,777.9 463.0,778.3 469.7,777.5C476.3,776.7 473.0,777.1 479.7,776.2C486.3,775.2 483.0,775.6 489.7,774.7C496.3,773.7 493.0,774.2 499.7,773.3C506.3,772.4 502.8,772.7 509.7,772.0C516.6,771.3 513.2,771.7 520.3,771.2C527.4,770.6 524.1,771.0 531.0,770.3C537.9,769.7 534.3,769.9 541.0,769.2C547.7,768.4 544.3,768.7 551.0,768.0C557.7,767.3 554.3,767.2 561.0,767.0C567.7,766.8 564.3,767.1 571.0,767.5C577.7,767.9 574.3,767.6 581.0,768.3C587.7,769.1 584.3,768.6 591.0,769.7C597.7,770.8 594.3,770.4 601.0,771.7C607.7,772.9 604.3,772.2 611.0,773.3C617.7,774.4 614.3,774.2 621.0,775.0C627.7,775.8 624.3,775.3 631.0,775.8C637.7,776.4 634.3,776.5 641.0,776.7C647.7,776.8 644.3,777.2 651.0,776.3C657.7,775.5 654.3,775.4 661.0,774.2C667.7,772.9 664.3,773.6 671.0,772.5C677.7,771.4 674.3,771.7 681.0,770.8C687.7,770.0 685.4,770.6 691.0,770.0C696.6,769.4 693.2,769.8 697.7,769.2C702.1,768.5 699.3,768.9 704.3,768.0C709.3,767.1 707.1,767.4 712.7,766.3C718.2,765.2 715.4,765.8 721.0,764.7C726.6,763.6 723.8,764.3 729.3,763.0C734.9,761.7 732.1,762.1 737.7,760.8C743.2,759.6 740.4,760.4 746.0,759.2C751.6,757.9 748.8,758.3 754.3,757.0C759.9,755.7 757.1,756.4 762.7,755.3C768.2,754.2 765.8,754.5 771.0,753.7C776.2,752.9 772.3,753.7 778.3,752.9C784.3,752.1 782.1,752.0 789.0,751.3C795.9,750.6 792.3,750.9 799.0,750.8C805.7,750.8 802.3,750.9 809.0,751.2C815.7,751.4 812.3,751.5 819.0,751.7C825.7,751.8 822.3,751.7 829.0,751.7C835.7,751.7 832.3,751.9 839.0,751.7C845.7,751.4 842.3,751.3 849.0,750.8C855.7,750.4 852.3,750.7 859.0,750.3C865.7,749.9 862.3,750.2 869.0,749.7C875.7,749.1 872.3,749.2 879.0,748.7C885.7,748.1 882.9,748.4 889.0,748.0C895.1,747.6 891.2,747.4 897.3,747.5C903.4,747.6 900.7,747.5 907.3,748.3C914.0,749.2 910.1,748.6 917.3,750.0C924.6,751.4 921.8,751.0 929.0,752.5C936.2,754.0 932.3,753.2 939.0,754.5C945.7,755.8 942.3,755.1 949.0,756.3C955.7,757.6 952.3,756.7 959.0,758.3C965.7,759.9 962.3,759.2 969.0,761.2C975.7,763.1 972.9,762.1 979.0,764.2C985.1,766.3 981.8,765.7 987.3,767.5C992.9,769.3 990.1,768.3 995.7,769.7C1001.2,771.1 998.4,770.6 1004.0,771.7C1009.6,772.8 1006.8,772.3 1012.3,773.0C1017.9,773.7 1013.2,773.3 1020.7,773.7C1028.1,774.1 1025.9,773.6 1034.7,774.2C1043.4,774.7 1039.6,774.8 1047.0,775.3C1054.4,775.9 1050.3,775.9 1057.0,775.8C1063.7,775.7 1060.3,775.4 1067.0,775.0C1073.7,774.6 1070.3,774.8 1077.0,774.5C1083.7,774.2 1080.3,774.4 1087.0,774.2C1093.7,773.9 1090.3,774.2 1097.0,773.7C1103.7,773.1 1100.3,773.4 1107.0,772.5C1113.7,771.6 1110.3,771.8 1117.0,770.8C1123.7,769.8 1120.3,770.3 1127.0,769.5C1133.7,768.7 1130.9,768.9 1137.0,768.3C1143.1,767.8 1142.6,768.0 1145.3,767.8" fill="none" stroke="#ff6d00" stroke-width="1.2" stroke-linejoin="round" stroke-linecap="round" clip-path="url(#cpMacd)"/>
<line x1="1502.5" y1="28" x2="1502.5" y2="821" stroke="#4a4d5b" stroke-width="1.1"/>
<line x1="11" y1="794.5" x2="1502" y2="794.5" stroke="#4a4d5b" stroke-width="1.1"/>
<line x1="11" y1="642.5" x2="1567" y2="642.5" stroke="#e0e3eb" stroke-width="1"/>
<line x1="11" y1="740.5" x2="1567" y2="740.5" stroke="#e0e3eb" stroke-width="1"/>
<text x="1510" y="78.1" font-size="12" fill="#50535e" textLength="42" lengthAdjust="spacingAndGlyphs" stroke="#50535e" stroke-width="0.25">0.64500</text>
<text x="1510" y="117.5" font-size="12" fill="#50535e" textLength="42" lengthAdjust="spacingAndGlyphs" stroke="#50535e" stroke-width="0.25">0.64000</text>
<text x="1510" y="156.9" font-size="12" fill="#50535e" textLength="42" lengthAdjust="spacingAndGlyphs" stroke="#50535e" stroke-width="0.25">0.63500</text>
<text x="1510" y="196.3" font-size="12" fill="#50535e" textLength="42" lengthAdjust="spacingAndGlyphs" stroke="#50535e" stroke-width="0.25">0.63000</text>
<text x="1510" y="235.7" font-size="12" fill="#50535e" textLength="42" lengthAdjust="spacingAndGlyphs" stroke="#50535e" stroke-width="0.25">0.62500</text>
<text x="1510" y="275.1" font-size="12" fill="#50535e" textLength="42" lengthAdjust="spacingAndGlyphs" stroke="#50535e" stroke-width="0.25">0.62000</text>
<text x="1510" y="314.5" font-size="12" fill="#50535e" textLength="42" lengthAdjust="spacingAndGlyphs" stroke="#50535e" stroke-width="0.25">0.61500</text>
<text x="1510" y="432.7" font-size="12" fill="#50535e" textLength="42" lengthAdjust="spacingAndGlyphs" stroke="#50535e" stroke-width="0.25">0.60000</text>
<text x="1510" y="472.1" font-size="12" fill="#50535e" textLength="42" lengthAdjust="spacingAndGlyphs" stroke="#50535e" stroke-width="0.25">0.59500</text>
<text x="1510" y="511.5" font-size="12" fill="#50535e" textLength="42" lengthAdjust="spacingAndGlyphs" stroke="#50535e" stroke-width="0.25">0.59000</text>
<text x="1510" y="550.9" font-size="12" fill="#50535e" textLength="42" lengthAdjust="spacingAndGlyphs" stroke="#50535e" stroke-width="0.25">0.58500</text>
<text x="1510" y="590.3" font-size="12" fill="#50535e" textLength="42" lengthAdjust="spacingAndGlyphs" stroke="#50535e" stroke-width="0.25">0.58000</text>
<text x="1510" y="629.7" font-size="12" fill="#50535e" textLength="42" lengthAdjust="spacingAndGlyphs" stroke="#50535e" stroke-width="0.25">0.57500</text>
<rect x="1507" y="31" width="57" height="26" rx="4" fill="#fff" stroke="#e8eaf0" stroke-width="2"/>
<text x="1515.5" y="49" font-size="12" fill="#131722" textLength="20.3" lengthAdjust="spacingAndGlyphs" stroke="#131722" stroke-width="0.25">USD</text>
<text x="18.3" y="46" font-size="12" fill="#50535e" textLength="21" lengthAdjust="spacingAndGlyphs" stroke="#50535e" stroke-width="0.25">SMA</text>
<text x="46.5" y="46" font-size="12" fill="#f23645" textLength="42" lengthAdjust="spacingAndGlyphs" stroke="#f23645" stroke-width="0.25">0.60743</text>
<text x="18.3" y="63" font-size="12" fill="#50535e" textLength="21" lengthAdjust="spacingAndGlyphs" stroke="#50535e" stroke-width="0.25">SMA</text>
<text x="46.5" y="63" font-size="12" fill="#3333ff" textLength="42" lengthAdjust="spacingAndGlyphs" stroke="#3333ff" stroke-width="0.25">0.61740</text>
<text x="18.3" y="661.7" font-size="12" fill="#50535e" textLength="16.4" lengthAdjust="spacingAndGlyphs" stroke="#50535e" stroke-width="0.25">RSI</text>
<text x="42" y="661.7" font-size="12" fill="#7e57c2" textLength="28.6" lengthAdjust="spacingAndGlyphs" stroke="#7e57c2" stroke-width="0.25">44.40</text>
<text x="78.4" y="661.7" font-size="12" fill="#ffeb3b" textLength="28.6" lengthAdjust="spacingAndGlyphs" stroke="#ffeb3b" stroke-width="0.25">51.33</text>
<text x="118.9" y="661.9" font-size="11.5" fill="#50535e" text-anchor="middle" textLength="6.6" lengthAdjust="spacingAndGlyphs" stroke="#50535e" stroke-width="0.25">∅</text>
<text x="134.15" y="661.9" font-size="11.5" fill="#50535e" text-anchor="middle" textLength="6.6" lengthAdjust="spacingAndGlyphs" stroke="#50535e" stroke-width="0.25">∅</text>
<text x="149.4" y="661.9" font-size="11.5" fill="#50535e" text-anchor="middle" textLength="6.6" lengthAdjust="spacingAndGlyphs" stroke="#50535e" stroke-width="0.25">∅</text>
<text x="164.65" y="661.9" font-size="11.5" fill="#50535e" text-anchor="middle" textLength="6.6" lengthAdjust="spacingAndGlyphs" stroke="#50535e" stroke-width="0.25">∅</text>
<text x="179.9" y="661.9" font-size="11.5" fill="#50535e" text-anchor="middle" textLength="6.6" lengthAdjust="spacingAndGlyphs" stroke="#50535e" stroke-width="0.25">∅</text>
<text x="195.15" y="661.9" font-size="11.5" fill="#50535e" text-anchor="middle" textLength="6.6" lengthAdjust="spacingAndGlyphs" stroke="#50535e" stroke-width="0.25">∅</text>
<text x="18" y="759.7" font-size="12" fill="#50535e" textLength="30" lengthAdjust="spacingAndGlyphs" stroke="#50535e" stroke-width="0.25">MACD</text>
<text x="55.2" y="759.7" font-size="12" fill="#b2dfdb" textLength="42" lengthAdjust="spacingAndGlyphs" stroke="#b2dfdb" stroke-width="0.25">0.00049</text>
<text x="105" y="759.7" font-size="12" fill="#2962ff" textLength="42" lengthAdjust="spacingAndGlyphs" stroke="#2962ff" stroke-width="0.25">0.00046</text>
<text x="154.5" y="759.7" font-size="12" fill="#ff6d00" textLength="47.5" lengthAdjust="spacingAndGlyphs" stroke="#ff6d00" stroke-width="0.25">−0.00003</text>
<text x="365.3" y="126.9" font-size="13.6" fill="#131722" font-weight="bold" textLength="45.1" lengthAdjust="spacing">0.6383</text>
<text x="1224.4" y="285.6" font-size="13.6" fill="#131722" font-weight="bold" textLength="222.1" lengthAdjust="spacing">0.6200 (2015, 2019 Low/Support)</text>
<text x="1225.3" y="435.5" font-size="15" fill="#131722" font-weight="bold" textLength="200.3" lengthAdjust="spacing">0.5915 ('04 and '06 Pivots)</text>
<text x="1229.4" y="548.6" font-size="13.4" fill="#131722" font-weight="bold" textLength="128.3" lengthAdjust="spacing">0.5845 (April 2020)</text>
<text x="1493.5" y="53.7" font-size="12" fill="#2962ff" text-anchor="end" textLength="69.96" lengthAdjust="spacingAndGlyphs" stroke="#2962ff" stroke-width="0.25">0.5 (0.64675)</text>
<text x="1493.5" y="239.3" font-size="12" fill="#2962ff" text-anchor="end" textLength="83.9" lengthAdjust="spacingAndGlyphs" stroke="#2962ff" stroke-width="0.25">0.618 (0.62321)</text>
<text x="1493.5" y="502.8" font-size="12" fill="#2962ff" text-anchor="end" textLength="83.9" lengthAdjust="spacingAndGlyphs" stroke="#2962ff" stroke-width="0.25">0.786 (0.58971)</text>
<text x="133.7" y="811.8" font-size="12" fill="#50535e" text-anchor="middle" textLength="14.27" lengthAdjust="spacingAndGlyphs" stroke="#50535e" stroke-width="0.25">Jul</text>
<text x="257.2" y="811.8" font-size="12" fill="#50535e" text-anchor="middle" textLength="19.86" lengthAdjust="spacingAndGlyphs" stroke="#50535e" stroke-width="0.25">Aug</text>
<text x="392.4" y="811.8" font-size="12" fill="#50535e" text-anchor="middle" textLength="19.86" lengthAdjust="spacingAndGlyphs" stroke="#50535e" stroke-width="0.25">Sep</text>
<text x="515.9" y="811.8" font-size="12" fill="#50535e" text-anchor="middle" textLength="17.36" lengthAdjust="spacingAndGlyphs" stroke="#50535e" stroke-width="0.25">Oct</text>
<text x="645.2" y="811.8" font-size="12" fill="#50535e" text-anchor="middle" textLength="19.85" lengthAdjust="spacingAndGlyphs" stroke="#50535e" stroke-width="0.25">Nov</text>
<text x="774.6" y="811.8" font-size="12" fill="#50535e" text-anchor="middle" textLength="19.85" lengthAdjust="spacingAndGlyphs" stroke="#50535e" stroke-width="0.25">Dec</text>
<text x="898.1" y="811.8" font-size="12" fill="#131722" font-weight="bold" text-anchor="middle" textLength="28.83" lengthAdjust="spacingAndGlyphs">2024</text>
<text x="1033.3" y="811.8" font-size="12" fill="#50535e" text-anchor="middle" textLength="19.23" lengthAdjust="spacingAndGlyphs" stroke="#50535e" stroke-width="0.25">Feb</text>
<text x="1156.8" y="811.8" font-size="12" fill="#50535e" text-anchor="middle" textLength="19.22" lengthAdjust="spacingAndGlyphs" stroke="#50535e" stroke-width="0.25">Mar</text>
<text x="1280.3" y="811.8" font-size="12" fill="#50535e" text-anchor="middle" textLength="17.37" lengthAdjust="spacingAndGlyphs" stroke="#50535e" stroke-width="0.25">Apr</text>
<text x="1409.6" y="811.8" font-size="12" fill="#50535e" text-anchor="middle" textLength="21.08" lengthAdjust="spacingAndGlyphs" stroke="#50535e" stroke-width="0.25">May</text>
<path d="M1502,120H1556a2,2 0 0 1 2,2V135a2,2 0 0 1 -2,2H1502z" fill="#000"/>
<text x="1510" y="132.6" font-size="12" fill="#fff" font-weight="bold" textLength="42" lengthAdjust="spacingAndGlyphs">0.63805</text>
<path d="M1452,283H1503V300H1452a2,2 0 0 1 -2,-2V285a2,2 0 0 1 2,-2z" fill="#3333ff"/>
<text x="1496.5" y="295.6" font-size="12" fill="#fff" font-weight="bold" text-anchor="end" textLength="42" lengthAdjust="spacingAndGlyphs">SMA:MA</text>
<path d="M1502,283H1556a2,2 0 0 1 2,2V298a2,2 0 0 1 -2,2H1502z" fill="#3333ff"/>
<rect x="1501" y="283" width="1" height="17" fill="#fff" fill-opacity="0.55"/>
<text x="1510" y="295.6" font-size="12" fill="#fff" font-weight="bold" textLength="42" lengthAdjust="spacingAndGlyphs">0.61740</text>
<path d="M1451,338H1503V355H1451a2,2 0 0 1 -2,-2V340a2,2 0 0 1 2,-2z" fill="#ef5350"/>
<text x="1496.5" y="350.6" font-size="12" fill="#fff" font-weight="bold" text-anchor="end" textLength="43" lengthAdjust="spacingAndGlyphs">NZDUSD</text>
<path d="M1502,338H1560a2,2 0 0 1 2,2V367a2,2 0 0 1 -2,2H1502z" fill="#ef5350"/>
<rect x="1501" y="338" width="1" height="17" fill="#fff" fill-opacity="0.55"/>
<text x="1510" y="350.6" font-size="12" fill="#fff" font-weight="bold" textLength="42" lengthAdjust="spacingAndGlyphs">0.61045</text>
<text x="1510.5" y="364.5" font-size="12" fill="#fff" stroke="#fff" stroke-width="0.25" fill-opacity="0.75">13:09:09</text>
<path d="M1452,369H1503V386H1452a2,2 0 0 1 -2,-2V371a2,2 0 0 1 2,-2z" fill="#f23645"/>
<text x="1496.5" y="381.6" font-size="12" fill="#fff" font-weight="bold" text-anchor="end" textLength="42" lengthAdjust="spacingAndGlyphs">SMA:MA</text>
<path d="M1502,369H1556a2,2 0 0 1 2,2V384a2,2 0 0 1 -2,2H1502z" fill="#f23645"/>
<rect x="1501" y="369" width="1" height="17" fill="#fff" fill-opacity="0.55"/>
<text x="1510" y="381.6" font-size="12" fill="#fff" font-weight="bold" textLength="42" lengthAdjust="spacingAndGlyphs">0.60743</text>
<path d="M1502,386H1556a2,2 0 0 1 2,2V401a2,2 0 0 1 -2,2H1502z" fill="#000"/>
<text x="1510" y="398.6" font-size="12" fill="#fff" font-weight="bold" textLength="42" lengthAdjust="spacingAndGlyphs">0.60506</text>
<path d="M1502,432H1556a2,2 0 0 1 2,2V447a2,2 0 0 1 -2,2H1502z" fill="#000"/>
<text x="1510" y="444.6" font-size="12" fill="#fff" font-weight="bold" textLength="42" lengthAdjust="spacingAndGlyphs">0.59853</text>
<path d="M1502,544H1556a2,2 0 0 1 2,2V559a2,2 0 0 1 -2,2H1502z" fill="#000"/>
<text x="1510" y="556.6" font-size="12" fill="#fff" font-weight="bold" textLength="42" lengthAdjust="spacingAndGlyphs">0.58437</text>
<rect x="1409" y="661" width="158" height="17" fill="#fff"/>
<rect x="1412" y="712" width="155" height="17.6" fill="#fff"/>
<rect x="1502" y="678" width="65" height="34" fill="#fff"/>
<text x="1495.7" y="673" font-size="12" fill="#131722" text-anchor="end" textLength="82" lengthAdjust="spacingAndGlyphs" stroke="#131722" stroke-width="0.25">Regular Bearish</text>
<text x="1510.3" y="673" font-size="12" fill="#131722" textLength="29" lengthAdjust="spacingAndGlyphs" stroke="#131722" stroke-width="0.25">51.82</text>
<text x="1495.7" y="723.8" font-size="12" fill="#131722" text-anchor="end" textLength="78.2" lengthAdjust="spacingAndGlyphs" stroke="#131722" stroke-width="0.25">Regular Bullish</text>
<text x="1510.3" y="723.8" font-size="12" fill="#131722" textLength="29" lengthAdjust="spacingAndGlyphs" stroke="#131722" stroke-width="0.25">40.46</text>
<path d="M1423.3,678H1543a2,2 0 0 1 2,2V693a2,2 0 0 1 -2,2H1423.3a2,2 0 0 1 -2,-2V680a2,2 0 0 1 2,-2z" fill="#ffeb3b"/>
<text x="1495.7" y="690.6" font-size="12" fill="#131722" text-anchor="end" textLength="70" lengthAdjust="spacingAndGlyphs" stroke="#131722" stroke-width="0.25">RSI-based MA</text>
<text x="1510.3" y="690.6" font-size="12" fill="#131722" textLength="29" lengthAdjust="spacingAndGlyphs" stroke="#131722" stroke-width="0.25">51.33</text>
<path d="M1477,695H1543a2,2 0 0 1 2,2V710a2,2 0 0 1 -2,2H1477a2,2 0 0 1 -2,-2V697a2,2 0 0 1 2,-2z" fill="#7e57c2"/>
<text x="1495.7" y="707.7" font-size="12" fill="#fff" font-weight="bold" text-anchor="end" textLength="15.5" lengthAdjust="spacingAndGlyphs">RSI</text>
<text x="1510.3" y="707.7" font-size="12" fill="#fff" font-weight="bold" textLength="29.5" lengthAdjust="spacingAndGlyphs">44.40</text>
<rect x="1501" y="678" width="1.3" height="34" fill="#fff" fill-opacity="0.75"/>
<clipPath id="cp60"><rect x="1503" y="643" width="64" height="20"/></clipPath>
<text x="1510.3" y="648" font-size="12" fill="#50535e" stroke="#50535e" stroke-width="0.25" clip-path="url(#cp60)">60.00</text>
<g clip-path="url(#cpMacdR)"><defs><clipPath id="cpMacdR"><rect x="1400" y="741" width="167" height="53.3"/></clipPath></defs><path d="M1439,758H1556a2,2 0 0 1 2,2V773a2,2 0 0 1 -2,2H1439a2,2 0 0 1 -2,-2V760a2,2 0 0 1 2,-2z" fill="#b2dfdb"/><path d="M1463,775H1556a2,2 0 0 1 2,2V790a2,2 0 0 1 -2,2H1463a2,2 0 0 1 -2,-2V777a2,2 0 0 1 2,-2z" fill="#2962ff"/><path d="M1462,792H1563.5V809H1460z" fill="#ff6d00"/><rect x="1501" y="758" width="1.3" height="36" fill="#fff" fill-opacity="0.7"/></g>
<text x="1495.7" y="770.6" font-size="12" fill="#50535e" text-anchor="end" textLength="53" lengthAdjust="spacingAndGlyphs" stroke="#50535e" stroke-width="0.25">Histogram</text>
<text x="1510" y="770.6" font-size="12" fill="#50535e" textLength="42" lengthAdjust="spacingAndGlyphs" stroke="#50535e" stroke-width="0.25">0.00049</text>
<text x="1495.7" y="787.6" font-size="12" fill="#fff" font-weight="bold" text-anchor="end" textLength="29.5" lengthAdjust="spacingAndGlyphs">MACD</text>
<text x="1510" y="787.6" font-size="12" fill="#fff" font-weight="bold" textLength="42" lengthAdjust="spacingAndGlyphs">0.00046</text>
<g fill="#1e222d"><path d="M10.2,834.1h8.8v9.8h-5v-6h-3.8z"/><circle cx="21.1" cy="836" r="1.9"/><path d="M25.6,834.1h4.3l-4.2,9.8h-4.3z"/></g>
<text x="33.2" y="843.9" font-size="13.5" fill="#1e222d" textLength="70.5" lengthAdjust="spacingAndGlyphs" stroke="#1e222d" stroke-width="0.25">TradingView</text>
<defs><mask id="wmMask" maskUnits="userSpaceOnUse" x="1300" y="740" width="300" height="100"><rect x="1300" y="740" width="300" height="100" fill="#fff"/><g font-family='"Liberation Sans", "Noto Sans CJK SC", sans-serif' font-weight="900" font-size="59" transform="translate(1327,812.5) skewX(-15)"><text x="0" y="0" fill="#000" stroke="#000" stroke-width="2.4" textLength="248" lengthAdjust="spacing" stroke-linejoin="round">海马财经</text></g></mask></defs>
<g mask="url(#wmMask)"><g font-family='"Liberation Sans", "Noto Sans CJK SC", sans-serif' font-weight="900" font-size="59" transform="translate(1327,812.5) skewX(-15)"><text x="2.3" y="2.3" fill="#4b4b53" stroke="#4b4b53" stroke-width="2.4" fill-opacity="0.8" stroke-opacity="0.8" textLength="248" lengthAdjust="spacing" stroke-linejoin="round">海马财经</text></g></g>
<g font-family='"Liberation Sans", "Noto Sans CJK SC", sans-serif' font-weight="900" font-size="59" transform="translate(1327,812.5) skewX(-15)"><text x="0" y="0" fill="#fff" stroke="#fff" stroke-width="2.4" opacity="0.6" textLength="248" lengthAdjust="spacing" stroke-linejoin="round">海马财经</text></g>
<g font-weight="bold" font-style="italic" font-size="32.6" transform="translate(1343.5,852) scale(1.2,1)"><text x="1" y="1" fill="#8589bd" stroke="#8589bd" stroke-width="0.8" textLength="186" lengthAdjust="spacing">zzrt01.cn</text><text x="0" y="0" fill="#93bfe4" stroke="#93bfe4" stroke-width="0.8" textLength="186" lengthAdjust="spacing">zzrt01.cn</text></g>
</svg>
</body>
</html>
